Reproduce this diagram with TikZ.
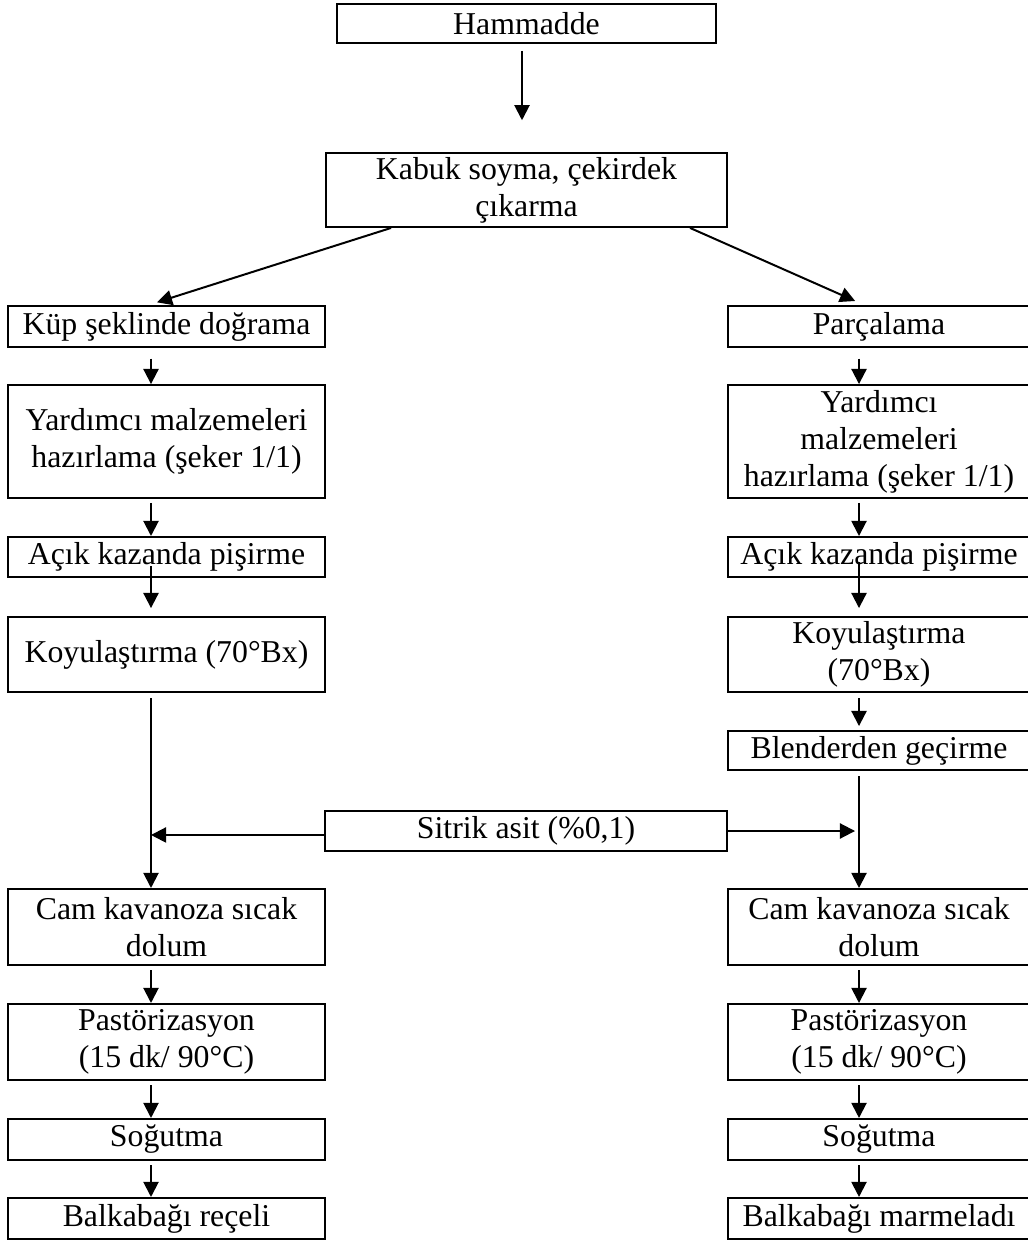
\documentclass[tikz,border=0pt]{standalone}
\usepackage{fontspec}
\setmainfont{Liberation Serif}
\usetikzlibrary{arrows.meta}
\begin{document}
\begin{tikzpicture}[x=0.3774pt,y=-0.3774pt,
  box/.style={draw,line width=.75pt,inner sep=0pt,align=center,font={\fontsize{12}{14}\selectfont}},
  lcol/.style={box,minimum width=119.6pt},
  rcol/.style={box,minimum width=114pt},
  arr/.style={-{Triangle[length=5.7pt,width=5.7pt]},line width=.75pt,shorten <=1.5pt}]
\useasboundingbox (0,0) rectangle (1027,1242);
\coordinate (L) at (151,0);
\coordinate (R) at (859,0);
% top
\node[box,minimum width=143pt,minimum height=14.7pt] (ham) at (526.5,23.5) {Hammadde};
\node[box,minimum width=151.3pt,minimum height=27.9pt] (kab) at (526.5,190) {Kabuk soyma, çekirdek\\çıkarma};
% left column
\node[lcol,minimum height=15.5pt] (kup) at (166.5,326.5) {Küp şeklinde doğrama};
\node[lcol,minimum height=42.6pt] (yardl) at (166.5,441.5) {Yardımcı malzemeleri\\hazırlama (şeker 1/1)};
\node[lcol,minimum height=15.1pt] (acikl) at (166.5,557) {Açık kazanda pişirme};
\node[lcol,minimum height=28.3pt] (koyl) at (166.5,654.5) {Koyulaştırma (70°Bx)};
\node[lcol,minimum height=28.7pt] (caml) at (166.5,927) {Cam kavanoza sıcak\\dolum};
\node[lcol,minimum height=28.7pt] (pastl) at (166.5,1042) {Pastörizasyon\\(15 dk/ 90°C)};
\node[lcol,minimum height=15.5pt] (sogl) at (166.5,1139.5) {Soğutma};
\node[lcol,minimum height=15.5pt] (receli) at (166.5,1218.5) {Balkabağı reçeli};
% right column
\node[rcol,minimum height=15.5pt] (parc) at (879,326.5) {Parçalama};
\node[rcol,minimum height=42.6pt] (yardr) at (879,441.5) {Yardımcı\\malzemeleri\\hazırlama (şeker 1/1)};
\node[rcol,minimum height=15.1pt] (acikr) at (879,557) {Açık kazanda pişirme};
\node[rcol,minimum height=28.3pt] (koyr) at (879,654.5) {Koyulaştırma\\(70°Bx)};
\node[rcol,minimum height=14.7pt] (blend) at (879,750.5) {Blenderden geçirme};
\node[rcol,minimum height=28.7pt] (camr) at (879,927) {Cam kavanoza sıcak\\dolum};
\node[rcol,minimum height=28.7pt] (pastr) at (879,1042) {Pastörizasyon\\(15 dk/ 90°C)};
\node[rcol,minimum height=15.5pt] (sogr) at (879,1139.5) {Soğutma};
\node[rcol,minimum height=15.5pt] (marmelat) at (879,1218.5) {Balkabağı marmeladı};
% middle
\node[box,minimum width=151.7pt,minimum height=15.1pt] (sit) at (526,831) {Sitrik asit (\%0,1)};
% arrows
\draw[arr,shorten <=2.6pt,shorten >=12pt] ([xshift=-1.7pt]ham.south) -- ([xshift=-1.7pt]kab.north);
\draw[arr,shorten <=0pt] ([xshift=24.9pt]kab.south west) -- ([xshift=-3.6pt,yshift=1pt]kup.north);
\draw[arr,shorten <=0pt] ([xshift=-14.3pt]kab.south east) -- ([xshift=-9pt,yshift=1.5pt]parc.north);
\draw[arr,shorten <=4pt] (kup.south -| L) -- (yardl.north -| L);
\draw[arr] (yardl.south -| L) -- (acikl.north -| L);
\draw[arr,shorten <=-4.5pt,shorten >=3pt] (acikl.south -| L) -- (koyl.north -| L);
\draw[arr,shorten <=2pt] (koyl.south -| L) -- (caml.north -| L);
\draw[arr] (caml.south -| L) -- (pastl.north -| L);
\draw[arr] (pastl.south -| L) -- (sogl.north -| L);
\draw[arr] (sogl.south -| L) -- (receli.north -| L);
\draw[arr,shorten <=4pt] (parc.south -| R) -- (yardr.north -| R);
\draw[arr] (yardr.south -| R) -- (acikr.north -| R);
\draw[arr,shorten <=-6pt,shorten >=3pt] (acikr.south -| R) -- (koyr.north -| R);
\draw[arr,shorten <=2pt,shorten >=1.5pt] (koyr.south -| R) -- (blend.north -| R);
\draw[arr,shorten <=2pt] (blend.south -| R) -- (camr.north -| R);
\draw[arr] (camr.south -| R) -- (pastr.north -| R);
\draw[arr] (pastr.south -| R) -- (sogr.north -| R);
\draw[arr] (sogr.south -| R) -- (marmelat.north -| R);
\draw[arr,shorten <=0pt] ([yshift=-1.5pt]sit.west) -- ([yshift=-1.5pt]sit.west -| L);
\draw[arr,shorten <=0pt,shorten >=1.5pt] (sit.east) -- (sit.east -| R);
\end{tikzpicture}
\end{document}
